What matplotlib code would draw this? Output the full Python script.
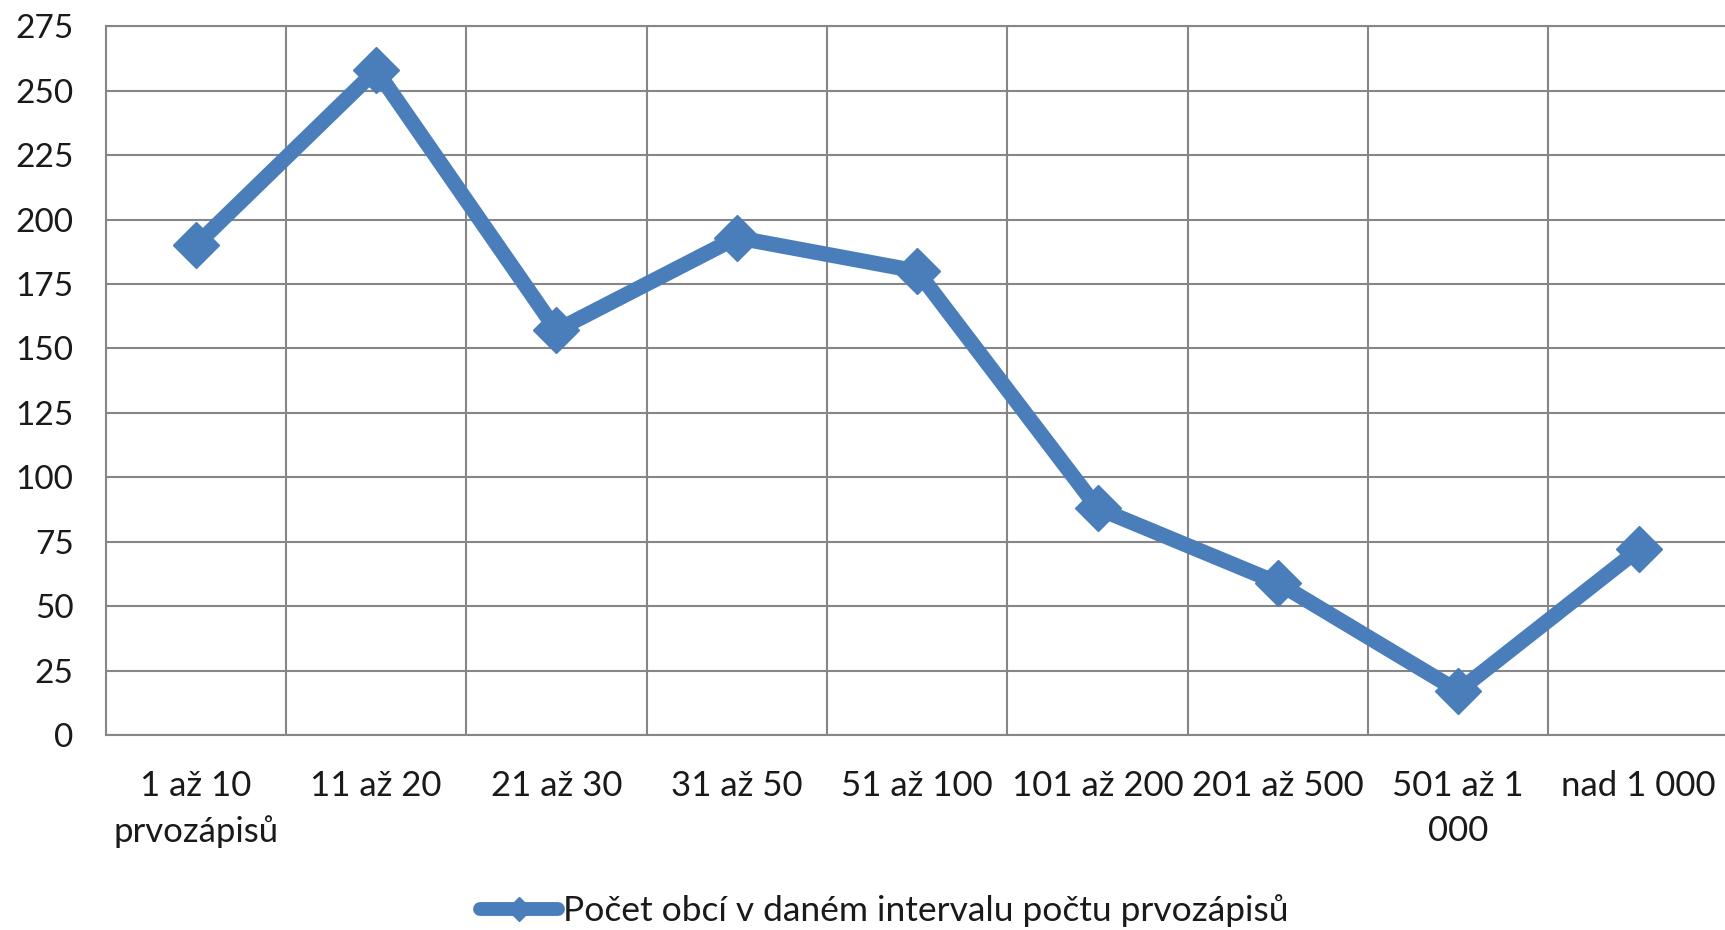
import matplotlib
matplotlib.use("Agg")
import matplotlib.pyplot as plt
from matplotlib.lines import Line2D

# data
categories = ['1 až 10\nprvozápisů', '11 až 20', '21 až 30', '31 až 50', '51 až 100',
              '101 až 200', '201 až 500', '501 až 1\n000', 'nad 1 000']
values = [190, 258, 157, 193, 180, 88, 59, 17, 72]
y_ticks = [0, 25, 50, 75, 100, 125, 150, 175, 200, 225, 250, 275]
series_name = 'Počet obcí v daném intervalu počtu prvozápisů'

blue = '#4a7ebb'
grid_col = '#868686'
plt.rcParams['font.family'] = ['Lato', 'DejaVu Sans']

fig = plt.figure(figsize=(17.25, 9.3), dpi=100)
ax = fig.add_axes([0.0612, 0.2097, 0.941, 0.762])

x = list(range(len(categories)))
ax.plot(x, values, color=blue, lw=11, marker='D', ms=23, mec=blue, mfc=blue,
        solid_joinstyle='miter', zorder=3)

ax.set_xlim(-0.5, len(categories) - 0.5)
ax.set_ylim(0, 275)
ax.set_yticks(y_ticks)
ax.set_xticks(x)
ax.set_xticklabels(categories, fontsize=25, color='#1a1a1a', linespacing=1.5, va='top')
ax.tick_params(axis='y', length=0, pad=23, labelsize=24, labelcolor='#1a1a1a')
ax.tick_params(axis='x', length=0, pad=25)

# Excel-style grid: horizontal lines at ticks, vertical lines between categories
for yv in y_ticks:
    ax.axhline(yv, color=grid_col, lw=1.5, zorder=1)
for xv in range(len(categories) + 1):
    ax.axvline(xv - 0.5, color=grid_col, lw=1.5, zorder=1)
for s in ax.spines.values():
    s.set_color(grid_col)
    s.set_linewidth(1.5)

handle = Line2D([], [], color=blue, lw=10, marker='D', ms=12, mfc=blue, mec=blue,
                solid_capstyle='round')
fig.legend([handle], [series_name], loc='center', bbox_to_anchor=(0.5125, 0.0204),
           frameon=False, fontsize=25.5, handlelength=2.2, handletextpad=0.15,
           labelcolor='#1a1a1a')

fig.savefig('out.png', dpi=100)
